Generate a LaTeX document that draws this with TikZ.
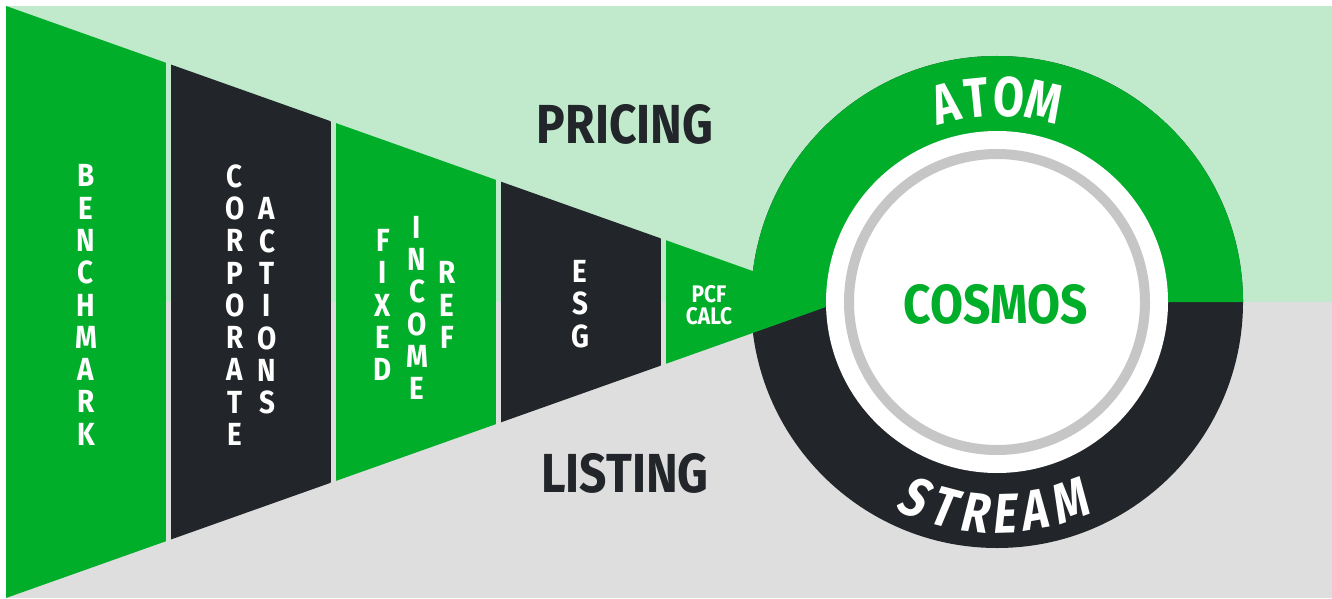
\documentclass[tikz,border=0pt]{standalone}
\usepackage{fontspec}
\setmainfont{Fira Sans}
\newfontfamily\cond{Fira Sans}[FakeStretch=0.87]
\newfontfamily\ringfont{Fira Sans}[FakeStretch=0.8]
\newfontfamily\ringfontsl{Fira Sans}[FakeStretch=0.8, FakeSlant=0.14]
\usetikzlibrary{calc}
\definecolor{lgreen}{HTML}{C0EACB}
\definecolor{lgray}{HTML}{DEDEDE}
\definecolor{brand}{HTML}{00AE2A}
\definecolor{ink}{HTML}{222529}
\definecolor{ringgray}{HTML}{C6C6C6}
\tikzset{
  vlabel/.style={text=white, font=\cond\bfseries\fontsize{32}{32.3}\selectfont, align=center, inner sep=0pt},
  pcflabel/.style={text=white, font=\cond\bfseries\fontsize{24}{22.5}\selectfont, align=center, inner sep=0pt},
  biglabel/.style={text=ink, font=\cond\bfseries\fontsize{55}{55}\selectfont, inner sep=0pt},
  centerlabel/.style={text=brand, font=\cond\bfseries\fontsize{55}{55}\selectfont, inner sep=0pt},
  topletter/.style={text=white, font=\ringfont\bfseries\fontsize{56}{56}\selectfont, inner sep=0pt, anchor=base, rotate=#1-90},
  botletter/.style={text=white, font=\ringfontsl\bfseries\fontsize{56}{56}\selectfont, inner sep=0pt, anchor=base, rotate=#1+90},
}
\begin{document}
\begin{tikzpicture}[x=1pt,y=1pt]
\useasboundingbox (0,0) rectangle (1332,598);
\fill[white] (0,0) rectangle (1332,598);
\fill[lgreen] (6,296) rectangle (1332,592);
\fill[lgray] (6,0) rectangle (1332,296);

% outer ring
\coordinate (c) at (997,296);
\fill[ink] (c) circle[radius=246];
\fill[brand] (c) ++(0:246) arc[start angle=0,end angle=180,radius=246] -- cycle;

% funnel strips
\begin{scope}
\clip (6,592) -- (840,296) -- (6,0) -- cycle;
\fill[brand] (6,0) rectangle (166,598);
\fill[ink] (171,0) rectangle (331,598);
\fill[brand] (336,0) rectangle (496,598);
\fill[ink] (501,0) rectangle (661,598);
\fill[brand] (666,0) rectangle (840,598);
\end{scope}

% inner circle
\fill[white] (c) circle[radius=171];
\draw[ringgray, line width=10] (c) circle[radius=148];

% curved ring labels, letter by letter
\foreach \ch/\ang/\nm in {A/104.5/a1, T/95.7/a2, O/86.6/a3, M/76.6/a4}
  \node[topletter=\ang] (atom\nm) at ($(c)+(\ang:186)$) {\ch};
\foreach \ch/\ang/\nm in {S/-113.2/s1, T/-104.7/s2, R/-96.2/s3, E/-88.3/s4, A/-80.1/s5, M/-70.2/s6}
  \node[botletter=\ang] (stream\nm) at ($(c)+(\ang:231)$) {\ch};

% labels
\node[centerlabel] (cosmos) at (996,294) {COSMOS};
\node[biglabel] (pricing) at (625,474) {PRICING};
\node[biglabel] (listing) at (625,125) {LISTING};

\node[vlabel] (benchmark) at (86,293) {B\\E\\N\\C\\H\\M\\A\\R\\K};
\node[vlabel] (corporate) at (235,293) {C\\O\\R\\P\\O\\R\\A\\T\\E};
\node[vlabel] (actions) at (267,292) {A\\C\\T\\I\\O\\N\\S};
\node[vlabel] (fixed) at (383,293) {F\\I\\X\\E\\D};
\node[vlabel] (income) at (417,290) {I\\N\\C\\O\\M\\E};
\node[vlabel] (ref) at (447,293) {R\\E\\F};
\node[vlabel] (esg) at (580,294) {E\\S\\G};
\node[pcflabel] (pcf) at (709,293) {PCF\\CALC};
\end{tikzpicture}
\end{document}
